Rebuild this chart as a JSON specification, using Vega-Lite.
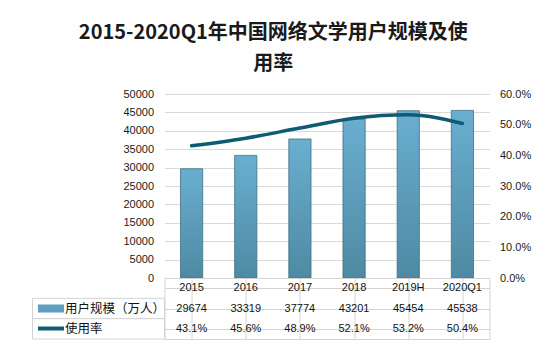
{
  "$schema": "https://vega.github.io/schema/vega-lite/v6.json",
  "autosize": {"type": "pad"},
  "padding": {"left": 31.5, "top": 23, "right": 5, "bottom": 18},
  "background": "white",
  "title": {
    "text": ["2015-2020Q1年中国网络文学用户规模及使", "用率"],
    "font": "Noto Sans CJK SC",
    "fontSize": 20,
    "fontWeight": "bold",
    "color": "#1a1a1a",
    "lineHeight": 31,
    "anchor": "middle",
    "frame": "bounds",
    "dx": -8,
    "offset": 14
  },
  "datasets": {
    "main": [
      {"year": "2015", "scale": 29674, "rate": 0.431},
      {"year": "2016", "scale": 33319, "rate": 0.456},
      {"year": "2017", "scale": 37774, "rate": 0.489},
      {"year": "2018", "scale": 43201, "rate": 0.521},
      {"year": "2019H", "scale": 45454, "rate": 0.532},
      {"year": "2020Q1", "scale": 45538, "rate": 0.504}
    ],
    "rows": [
      {"row": "用户规模（万人）"},
      {"row": "使用率"}
    ]
  },
  "config": {
    "view": {"stroke": null},
    "font": "Liberation Sans",
    "axis": {"labelFont": "Liberation Sans", "labelFontSize": 11, "labelColor": "#1a1a1a"}
  },
  "columns": 2,
  "spacing": 0,
  "bounds": "flush",
  "concat": [
    {
      "width": 132,
      "height": 184,
      "data": {"name": "rows"},
      "mark": {"type": "point", "opacity": 0},
      "encoding": {}
    },
    {
      "width": 325,
      "height": 184,
      "data": {"name": "main"},
      "layer": [
        {
          "mark": {
            "type": "bar",
            "width": {"band": 0.41},
            "fill": {
              "gradient": "linear",
              "x1": 0, "y1": 0, "x2": 0, "y2": 1,
              "stops": [
                {"offset": 0, "color": "#6aaed0"},
                {"offset": 1, "color": "#4e8aa3"}
              ]
            },
            "stroke": "#3f6e82",
            "strokeWidth": 0.8
          },
          "encoding": {
            "x": {
              "field": "year", "type": "ordinal", "sort": null,
              "scale": {"paddingInner": 0, "paddingOuter": 0},
              "axis": null
            },
            "y": {
              "field": "scale", "type": "quantitative",
              "scale": {"domain": [0, 50000], "nice": false},
              "axis": {
                "values": [0, 5000, 10000, 15000, 20000, 25000, 30000, 35000, 40000, 45000, 50000],
                "format": "d",
                "title": null,
                "domain": false,
                "ticks": false,
                "tickSize": 0,
                "labelPadding": 11,
                "grid": true,
                "gridColor": "#d9d9d9",
                "gridWidth": 1
              }
            }
          }
        },
        {
          "mark": {
            "type": "line",
            "color": "#0e5b73",
            "strokeWidth": 3.5,
            "interpolate": "monotone",
            "strokeCap": "round"
          },
          "encoding": {
            "x": {"field": "year", "type": "ordinal", "sort": null},
            "y": {
              "field": "rate", "type": "quantitative",
              "scale": {"domain": [0, 0.6], "nice": false},
              "axis": {
                "orient": "right",
                "values": [0, 0.1, 0.2, 0.3, 0.4, 0.5, 0.6],
                "format": ".1%",
                "title": null,
                "domain": false,
                "ticks": false,
                "tickSize": 0,
                "labelPadding": 10,
                "grid": false
              }
            }
          }
        }
      ],
      "resolve": {"scale": {"y": "independent"}}
    },
    {
      "width": 132,
      "height": 61,
      "data": {"name": "rows"},
      "mark": {"type": "rect", "fill": "white", "stroke": "#d4d4d4", "strokeWidth": 1},
      "encoding": {
        "y": {
          "field": "row", "type": "nominal",
          "scale": {"domain": ["年份", "用户规模（万人）", "使用率"], "paddingInner": 0, "paddingOuter": 0},
          "axis": {
            "values": ["用户规模（万人）", "使用率"],
            "title": null,
            "domain": false,
            "grid": false,
            "offset": -31,
            "tickSize": 26,
            "tickColor": {"condition": {"test": "datum.value === '使用率'", "value": "#0e5b73"}, "value": "#5d9fc0"},
            "tickWidth": {"condition": {"test": "datum.value === '使用率'", "value": 4}, "value": 8},
            "labelAlign": "left",
            "labelPadding": -27,
            "labelFont": "Noto Sans CJK SC",
            "labelFontSize": 12.5,
            "labelColor": "#111111",
            "labelBaseline": "middle"
          }
        }
      }
    },
    {
      "width": 325,
      "height": 61,
      "data": {"name": "main"},
      "view": {"stroke": "#d4d4d4", "strokeWidth": 1},
      "encoding": {
        "x": {
          "field": "year", "type": "ordinal", "sort": null,
          "scale": {"paddingInner": 0, "paddingOuter": 0},
          "axis": {
            "title": null, "labels": false, "ticks": false, "domain": false,
            "grid": true, "bandPosition": 0, "gridColor": "#d4d4d4"
          }
        }
      },
      "layer": [
        {
          "mark": {"type": "text", "font": "Liberation Sans", "fontSize": 11, "color": "#111111"},
          "encoding": {
            "y": {
              "datum": "年份", "type": "nominal",
              "scale": {"domain": ["年份", "用户规模（万人）", "使用率"], "paddingInner": 0, "paddingOuter": 0},
              "axis": {
                "title": null, "labels": false, "ticks": false, "domain": false,
                "grid": true, "bandPosition": 0, "gridColor": "#d4d4d4"
              }
            },
            "text": {"field": "year"}
          }
        },
        {
          "mark": {"type": "text", "font": "Liberation Sans", "fontSize": 11, "color": "#111111"},
          "encoding": {
            "y": {"datum": "用户规模（万人）", "type": "nominal"},
            "text": {"field": "scale", "type": "quantitative", "format": "d"}
          }
        },
        {
          "mark": {"type": "text", "font": "Liberation Sans", "fontSize": 11, "color": "#111111"},
          "encoding": {
            "y": {"datum": "使用率", "type": "nominal"},
            "text": {"field": "rate", "type": "quantitative", "format": ".1%"}
          }
        }
      ]
    }
  ]
}
